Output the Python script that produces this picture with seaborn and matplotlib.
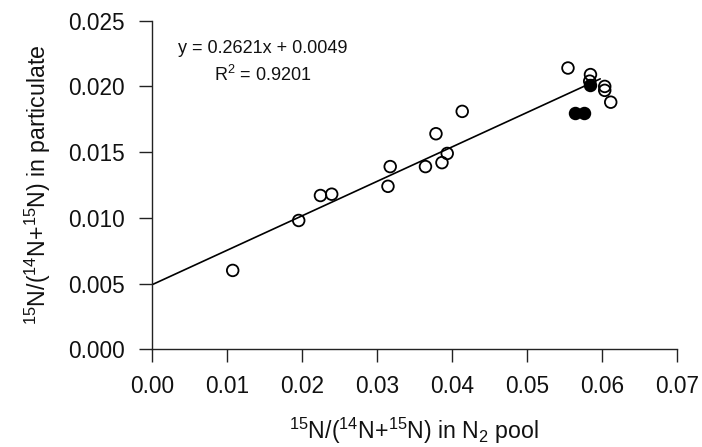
import numpy as np
import pandas as pd
import matplotlib
matplotlib.use('Agg')
import matplotlib.pyplot as plt
import seaborn as sns

# open circles
open_x = [0.0108, 0.0196, 0.0225, 0.0240, 0.0315, 0.0318, 0.0365, 0.0379, 0.0387,
          0.0394, 0.0414, 0.0555, 0.0585, 0.0584, 0.0604, 0.0604, 0.0612]
open_y = [0.0060, 0.0098, 0.0117, 0.0118, 0.0124, 0.0139, 0.0139, 0.0164, 0.0142,
          0.0149, 0.0181, 0.0214, 0.0209, 0.0204, 0.0200, 0.0197, 0.0188]

# filled circles
filled_x = [0.0564, 0.0576, 0.0585]
filled_y = [0.0180, 0.0180, 0.0201]

# regression line from the printed equation
slope, intercept = 0.2621, 0.0049
r2 = 0.9201
line_x = [0.0, 0.0598]

open_df = pd.DataFrame({'x': open_x, 'y': open_y})
filled_df = pd.DataFrame({'x': filled_x, 'y': filled_y})
line_df = pd.DataFrame({'x': line_x, 'y': [slope * v + intercept for v in line_x]})

sns.set_style('ticks')
plt.rcParams['font.family'] = ['Liberation Sans', 'DejaVu Sans']
plt.rcParams['mathtext.fontset'] = 'custom'
plt.rcParams['mathtext.rm'] = 'Liberation Sans'
plt.rcParams['mathtext.it'] = 'Liberation Sans:italic'

fig = plt.figure(figsize=(7.02, 4.47), dpi=100)
ax = fig.add_axes([0.2161, 0.2186, 0.7479, 0.7351])

sns.lineplot(data=line_df, x='x', y='y', color='black', linewidth=1.2, ax=ax)
sns.scatterplot(data=open_df, x='x', y='y', marker='o', s=70,
                facecolor='none', edgecolor='black', linewidth=1.3, ax=ax, zorder=3)
sns.scatterplot(data=filled_df, x='x', y='y', marker='o', s=70,
                color='black', edgecolor='black', linewidth=1.3, ax=ax, zorder=4)

ax.set_xlim(0, 0.07)
ax.set_ylim(0, 0.025)
ax.set_xticks(np.arange(0, 0.0701, 0.01))
ax.set_yticks(np.arange(0, 0.0251, 0.005))
ax.set_xticklabels([f'{v:.2f}' for v in np.arange(0, 0.0701, 0.01)])
ax.set_yticklabels([f'{v:.3f}' for v in np.arange(0, 0.0251, 0.005)])

for side in ['top', 'right']:
    ax.spines[side].set_visible(False)
for side in ['left', 'bottom']:
    ax.spines[side].set_linewidth(1.0)
    ax.spines[side].set_color('#222222')

ax.tick_params(axis='both', direction='out', length=9.5, width=1.0,
               color='#222222', labelsize=16.3, labelcolor='#111111')
ax.tick_params(axis='y', pad=10)
ax.tick_params(axis='x', pad=9)

ax.set_xlabel(r'$^{15}$N/($^{14}$N+$^{15}$N) in N$_2$ pool', fontsize=16.7,
              color='#111111', labelpad=13)
ax.set_ylabel(r'$^{15}$N/($^{14}$N+$^{15}$N) in particulate', fontsize=16.7,
              color='#111111', labelpad=11)

ax.text(0.212, 0.916, f'y = {slope:.4f}x + {intercept:.4f}', transform=ax.transAxes,
        ha='center', va='center', fontsize=13, color='#111111')
ax.text(0.212, 0.835, f'R$^2$ = {r2:.4f}', transform=ax.transAxes,
        ha='center', va='center', fontsize=13, color='#111111')

fig.savefig('out.png', dpi=100)
plt.close(fig)
